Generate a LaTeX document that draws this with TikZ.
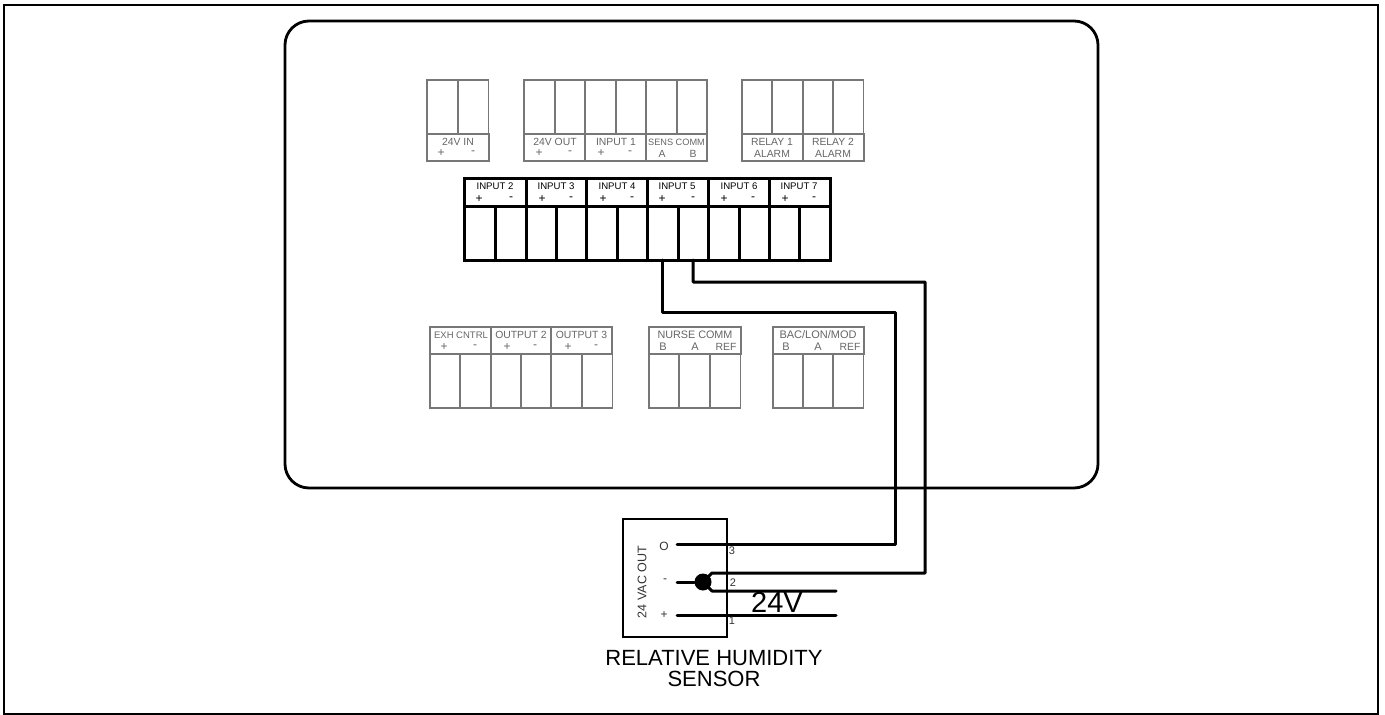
\documentclass[tikz,border=0pt]{standalone}
\usepackage{xcolor}
\usepackage{fontspec}
\setmainfont{Liberation Sans}
\usepackage{tikz}
\usetikzlibrary{positioning, shapes, calc}
\definecolor{cellgray}{HTML}{777777}
\definecolor{textgray}{HTML}{666666}

\begin{document}
\begin{tikzpicture}[x=1pt, y=-1pt]
	\tikzstyle{cellbox}=[draw=cellgray, line width=1.7, minimum height=54, minimum width=30.6, inner sep=0, outer sep=0, anchor=north west]
	\tikzstyle{tagbox}=[draw=cellgray, line width=1.7, minimum height=27, inner sep=0, outer sep=0, anchor=north west]
	\tikzstyle{strongcell}=[draw=black, line width=3, minimum height=54, minimum width=30.5, inner sep=0, outer sep=0, anchor=north west]
	\tikzstyle{strongtag}=[draw=black, line width=3, minimum height=28, inner sep=0, outer sep=0, anchor=north west]
	\tikzstyle{graytext}=[text=textgray, inner sep=0, font=\fontsize{10.4}{12}\selectfont]
	\tikzstyle{graysign}=[text=textgray, inner sep=0, font=\fontsize{12}{12}\selectfont]
	\tikzstyle{blacktext}=[text=black, inner sep=0, font=\fontsize{9.6}{12}\selectfont]
	\tikzstyle{blacksign}=[text=black, inner sep=0, font=\fontsize{12}{12}\selectfont]
	\tikzstyle{wire}=[draw=black, line width=3, line cap=round, line join=round]
	\tikzstyle{sensortext}=[text=black!80, inner sep=0, font=\fontsize{11}{12}\selectfont]

	\useasboundingbox (0,0) rectangle (1385,715);
	\node (frame) at (4,5) [draw=black, line width=2, anchor=north west, minimum width=1374, minimum height=709, inner sep=0, outer sep=0] {};
	\node (panel) at (285,21) [draw=black, line width=2.8, anchor=north west, minimum width=813, minimum height=467, rounded corners=24, inner sep=0, outer sep=0] {};

	% top row
	\node (a0) at (427,80) [cellbox] {};
	\node (a1) at (458,80) [cellbox] {};
	\node (ta0) at (427,134) [tagbox, minimum width=62] {};
	\node (la0) at (458,142) [graytext] {24V IN};
	\node at (441,153) [graysign] {+};
	\node at (473,153) [graysign] {-};

	\node (b0) at (524,80) [cellbox] {};
	\node (b1) at (555,80) [cellbox] {};
	\node (b2) at (585,80) [cellbox] {};
	\node (b3) at (616,80) [cellbox] {};
	\node (b4) at (646,80) [cellbox] {};
	\node (b5) at (677,80) [cellbox, minimum width=30] {};
	\node (tb0) at (524,134) [tagbox, minimum width=61] {};
	\node (tb1) at (585,134) [tagbox, minimum width=61] {};
	\node (tb2) at (646,134) [tagbox, minimum width=61] {};
	\node (lb0) at (555,142) [graytext] {24V OUT};
	\node at (539,153) [graysign] {+};
	\node at (570,153) [graysign] {-};
	\node (lb1) at (616,142) [graytext] {INPUT 1};
	\node at (601,153) [graysign] {+};
	\node at (630,153) [graysign] {-};
	\node (lb2) at (676.500,142) [graytext, font=\fontsize{9.2}{12}\selectfont] {SENS COMM};
	\node at (662,154) [graytext] {A};
	\node at (693,154) [graytext] {B};

	\node (r0) at (742,80) [cellbox] {};
	\node (r1) at (772,80) [cellbox] {};
	\node (r2) at (803,80) [cellbox] {};
	\node (r3) at (833,80) [cellbox] {};
	\node (tr0) at (742,134) [tagbox, minimum width=61] {};
	\node (tr1) at (803,134) [tagbox, minimum width=61] {};
	\node (lr0) at (772,142) [graytext] {RELAY 1};
	\node at (772,154) [graytext] {ALARM};
	\node (lr1) at (833,142) [graytext] {RELAY 2};
	\node at (833,154) [graytext] {ALARM};

	% middle row
	\node (s0) at (464,206) [strongcell, minimum width=31] {};
	\node (s1) at (495,206) [strongcell, minimum width=31] {};
	\node (s2) at (526,206) [strongcell, minimum width=30] {};
	\node (s3) at (556,206) [strongcell, minimum width=30] {};
	\node (s4) at (586,206) [strongcell, minimum width=31] {};
	\node (s5) at (617,206) [strongcell, minimum width=30] {};
	\node (s6) at (647,206) [strongcell, minimum width=31] {};
	\node (s7) at (678,206) [strongcell, minimum width=30] {};
	\node (s8) at (708,206) [strongcell, minimum width=31] {};
	\node (s9) at (739,206) [strongcell, minimum width=30] {};
	\node (s10) at (769,206) [strongcell, minimum width=30] {};
	\node (s11) at (799,206) [strongcell, minimum width=31] {};
	\node (ts0) at (464,178) [strongtag, minimum width=62] {};
	\node (ts1) at (526,178) [strongtag, minimum width=60] {};
	\node (ts2) at (586,178) [strongtag, minimum width=61] {};
	\node (ts3) at (647,178) [strongtag, minimum width=61] {};
	\node (ts4) at (708,178) [strongtag, minimum width=61] {};
	\node (ts5) at (769,178) [strongtag, minimum width=61] {};
	\node (ls0) at (495,186) [blacktext] {INPUT 2};
	\node at (479,199) [blacksign] {+};
	\node at (511,199) [blacksign] {-};
	\node (ls1) at (556,186) [blacktext] {INPUT 3};
	\node at (542,199) [blacksign] {+};
	\node at (571,199) [blacksign] {-};
	\node (ls2) at (617,186) [blacktext] {INPUT 4};
	\node at (603,199) [blacksign] {+};
	\node at (632,199) [blacksign] {-};
	\node (ls3) at (677,186) [blacktext] {INPUT 5};
	\node at (662,199) [blacksign] {+};
	\node at (693,199) [blacksign] {-};
	\node (ls4) at (739,186) [blacktext] {INPUT 6};
	\node at (724,199) [blacksign] {+};
	\node at (753,199) [blacksign] {-};
	\node (ls5) at (799,186) [blacktext] {INPUT 7};
	\node at (785,199) [blacksign] {+};
	\node at (814,199) [blacksign] {-};

	% bottom row
	\node (e0) at (430,354) [cellbox] {};
	\node (e1) at (460,354) [cellbox] {};
	\node (e2) at (491,354) [cellbox] {};
	\node (e3) at (521,354) [cellbox] {};
	\node (e4) at (551,354) [cellbox] {};
	\node (e5) at (582,354) [cellbox] {};
	\node (te0) at (430,327) [tagbox, minimum width=61] {};
	\node (te1) at (491,327) [tagbox, minimum width=60] {};
	\node (te2) at (551,327) [tagbox, minimum width=61] {};
	\node (le0) at (461,335) [graytext, font=\fontsize{9.5}{12}\selectfont] {EXH CNTRL};
	\node at (444,347) [graysign] {+};
	\node at (475,347) [graysign] {-};
	\node (le1) at (521,335) [graytext] {OUTPUT 2};
	\node at (507,347) [graysign] {+};
	\node at (535,347) [graysign] {-};
	\node (le2) at (581.500,335) [graytext] {OUTPUT 3};
	\node at (568,347) [graysign] {+};
	\node at (596,347) [graysign] {-};

	\node (n0) at (649,354) [cellbox] {};
	\node (n1) at (679,354) [cellbox] {};
	\node (n2) at (710,354) [cellbox] {};
	\node (tn0) at (649,327) [tagbox, minimum width=92] {};
	\node (ln0) at (695,335) [graytext, font=\fontsize{10.8}{12}\selectfont] {NURSE COMM};
	\node at (663,347) [graysign, font=\fontsize{11}{12}\selectfont] {B};
	\node at (695,347) [graysign, font=\fontsize{11}{12}\selectfont] {A};
	\node at (726,347) [graysign, font=\fontsize{10.4}{12}\selectfont] {REF};

	\node (m0) at (773,354) [cellbox] {};
	\node (m1) at (803,354) [cellbox] {};
	\node (m2) at (833,354) [cellbox] {};
	\node (tm0) at (773,327) [tagbox, minimum width=91] {};
	\node (lm0) at (818,335) [graytext, font=\fontsize{11}{12}\selectfont] {BAC/LON/MOD};
	\node at (786,347) [graysign, font=\fontsize{11}{12}\selectfont] {B};
	\node at (818,347) [graysign, font=\fontsize{11}{12}\selectfont] {A};
	\node at (850,347) [graysign, font=\fontsize{10.4}{12}\selectfont] {REF};

	% sensor
	\node (rh) at (623,519) [draw=black, line width=2.8, anchor=north west, minimum width=104, minimum height=118, inner sep=0, outer sep=0] {};
	\node (dot) at (703,582) [circle, fill=black, minimum size=17, inner sep=0] {};
	\coordinate (k0) at (895,312);
	\coordinate (k1) at (925,282);
	\coordinate (p0) at (677,544);
	\coordinate (p1) at (712,573);
	\coordinate (p2) at (677,582);
	\coordinate (p3) at (677,615);
	\coordinate (q1) at (712,591);
	\coordinate (q2) at (836,591);
	\coordinate (q3) at (836,615);

	\draw [wire] (s6.south) |- (k0) |- (p0);
	\draw [wire] (s7.south) |- (k1) |- (p1) -- (dot);
	\draw [wire] (p2) -- (dot);
	\draw [wire] (dot) -- (q1) -- (q2);
	\draw [wire] (p3) -- (q3);

	\node (t3) at (664,546) [sensortext, font=\fontsize{12}{12}\selectfont] {O};
	\node (t2) at (665,581) [sensortext, font=\fontsize{12}{12}\selectfont] {-};
	\node (t1) at (664,615) [sensortext, font=\fontsize{12}{12}\selectfont] {+};
	\node at (732,551) [sensortext] {3};
	\node at (733,583) [sensortext] {2};
	\node at (732,621) [sensortext] {1};
	\node (vac) at (642,582) [sensortext, rotate=90, font=\fontsize{12.500}{12}\selectfont] {24 VAC OUT};
	\node (vv) at (777,602) [inner sep=0, font=\fontsize{29}{30}\selectfont] {24V};
	\node (rhname) at (714,658) [inner sep=0, font=\fontsize{22}{24}\selectfont] {RELATIVE HUMIDITY};
	\node (rhsub) at (714,679) [inner sep=0, font=\fontsize{22}{24}\selectfont] {SENSOR};
\end{tikzpicture}
\end{document}
